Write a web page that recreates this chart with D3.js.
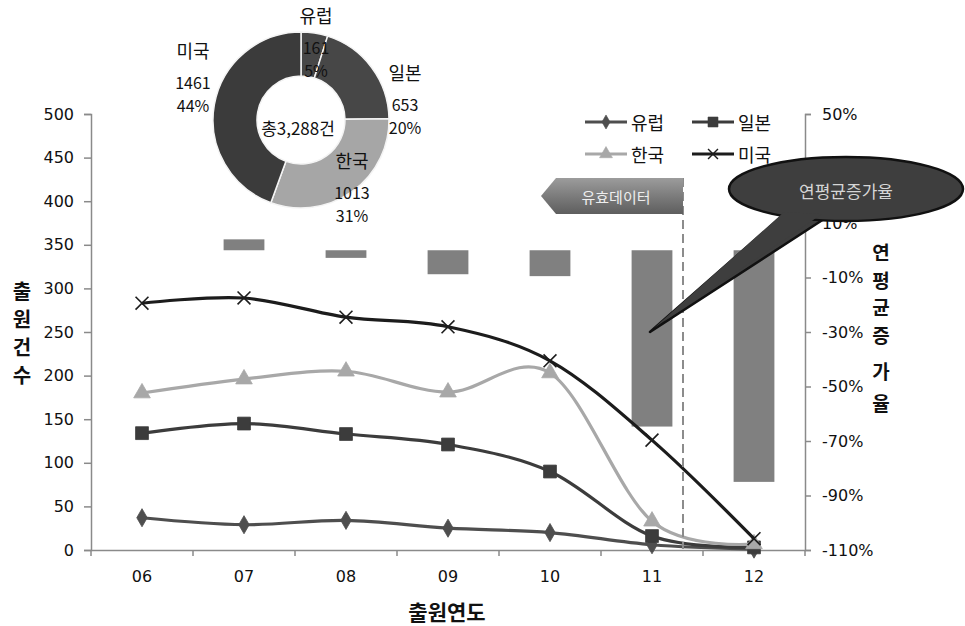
<!DOCTYPE html>
<html>
<head>
<meta charset="utf-8">
<script src="https://cdn.jsdelivr.net/npm/d3@7"></script>
<style>
  html, body { margin: 0; padding: 0; background: #fff; }
  svg { display: block; }
  text { font-family: "DejaVu Sans", "Noto Sans CJK KR", sans-serif; fill: #111; }
  .kr { font-family: "Noto Sans CJK KR", sans-serif; }
</style>
</head>
<body>
<svg id="chart" width="965" height="626"></svg>
<script>
// Filing counts per year and region
const years = ['06', '07', '08', '09', '10', '11', '12'];
const europe = [37, 29, 34, 25, 20, 6, 1];
const japan = [134, 145, 133, 121, 90, 16, 3];
const korea = [180, 196, 205, 181, 203, 33, 7];
const usa = [283, 289, 267, 256, 217, 126, 13];

// Year-over-year change of the total (%), right axis
const growthYears = ['07', '08', '09', '10', '11', '12'];
const growth = [4.0, -2.8, -8.8, -9.5, -64.7, -85.0];

// Axis ticks
const leftTicks = [0, 50, 100, 150, 200, 250, 300, 350, 400, 450, 500];
const rightTicks = [50, 30, 10, -10, -30, -50, -70, -90, -110];

// Regional share (donut)
const pieNames = ['유럽', '일본', '한국', '미국'];
const pieValues = [161, 653, 1013, 1461];

const series = [
  { name: '유럽', values: europe, color: '#4e4e4e', symbol: d3.symbolDiamond, size: 95 },
  { name: '일본', values: japan, color: '#3c3c3c', symbol: d3.symbolSquare, size: 165 },
  { name: '한국', values: korea, color: '#a8a8a8', symbol: d3.symbolTriangle, size: 120 },
  { name: '미국', values: usa, color: '#1c1c1c', symbol: d3.symbolTimes, size: 110, stroked: true }
];

const svg = d3.select('#chart');

const x = d3.scaleBand().domain(years).range([91, 805]);
const yL = d3.scaleLinear().domain([0, 500]).range([550, 114]);
const yR = d3.scaleLinear().domain([-110, 50]).range([550, 114]);
const cx = d => x(d) + x.bandwidth() / 2;

// Growth bars
const gBars = svg.append('g');
gBars.selectAll('rect').data(growthYears).join('rect')
  .attr('x', d => cx(d) - x.bandwidth() * 0.2)
  .attr('width', x.bandwidth() * 0.4)
  .attr('y', (d, i) => yR(Math.max(0, growth[i])))
  .attr('height', (d, i) => Math.abs(yR(growth[i]) - yR(0)))
  .attr('fill', '#808080');

// Left axis
const axL = svg.append('g').attr('transform', 'translate(91,0)')
  .call(d3.axisLeft(yL).tickValues(leftTicks).tickSize(7).tickPadding(10));
axL.selectAll('text').style('font-size', '16px').attr('fill', '#1a1a1a');

// Right axis
const axR = svg.append('g').attr('transform', 'translate(805,0)')
  .call(d3.axisRight(yR).tickValues(rightTicks).tickSize(6).tickPadding(11)
    .tickFormat(d => d + '%'));
axR.selectAll('text').style('font-size', '16px').attr('fill', '#1a1a1a');

// Bottom axis: labels centered, ticks on band boundaries
const axB = svg.append('g').attr('transform', 'translate(0,550)')
  .call(d3.axisBottom(x).tickSize(0).tickPadding(21));
axB.selectAll('text').style('font-size', '16px').attr('fill', '#1a1a1a');
const bounds = years.map(d => x(d)).concat([x.range()[1]]);
axB.selectAll('line.bnd').data(bounds).join('line').attr('class', 'bnd')
  .attr('x1', d => d).attr('x2', d => d).attr('y1', 0).attr('y2', 6);

[axL, axR, axB].forEach(a => {
  a.selectAll('path, line').attr('stroke', '#8a8a8a').attr('stroke-width', 1.5);
});

// Smoothed lines with markers
const line = d3.line().curve(d3.curveCardinal.tension(0));
const gLines = svg.append('g');
series.forEach(s => {
  const pts = s.values.map((v, i) => [cx(years[i]), yL(v)]);
  gLines.append('path')
    .attr('d', line(pts))
    .attr('fill', 'none')
    .attr('stroke', s.color)
    .attr('stroke-width', 3.2)
    .attr('stroke-linejoin', 'round');
  const sym = d3.symbol().type(s.symbol).size(s.size);
  gLines.selectAll(null).data(pts).join('path')
    .attr('transform', p => `translate(${p[0]},${p[1]})`)
    .attr('d', sym())
    .attr('fill', s.stroked ? 'none' : s.color)
    .attr('stroke', s.color)
    .attr('stroke-width', s.stroked ? 1.6 : 0.8);
});

// Valid-data boundary
svg.append('line')
  .attr('x1', 683).attr('x2', 683).attr('y1', 178).attr('y2', 549)
  .attr('stroke', '#8c8c8c').attr('stroke-width', 2).attr('stroke-dasharray', '9,5');

const defs = svg.append('defs');
const grad = defs.append('linearGradient').attr('id', 'tagGrad')
  .attr('x1', 0).attr('x2', 0).attr('y1', 0).attr('y2', 1);
grad.append('stop').attr('offset', '0%').attr('stop-color', '#9c9c9c');
grad.append('stop').attr('offset', '50%').attr('stop-color', '#7c7c7c');
grad.append('stop').attr('offset', '100%').attr('stop-color', '#5e5e5e');

svg.append('path')
  .attr('d', 'M541,196 L556,178 L683,178 L683,214 L556,214 Z')
  .attr('fill', 'url(#tagGrad)');
svg.append('text').attr('class', 'kr')
  .attr('x', 616).attr('y', 196).attr('text-anchor', 'middle')
  .attr('dominant-baseline', 'central')
  .style('font-size', '15px').style('fill', '#eeeeee')
  .text('유효데이터');

// Legend
const legendPos = [[585, 122], [692, 122], [585, 154], [692, 154]];
series.forEach((s, i) => {
  const [lx, ly] = legendPos[i];
  const g = svg.append('g').attr('transform', `translate(${lx},${ly})`);
  g.append('line').attr('x1', 0).attr('x2', 42).attr('y1', 0).attr('y2', 0)
    .attr('stroke', s.color).attr('stroke-width', 3.2);
  g.append('path').attr('transform', 'translate(21,0)')
    .attr('d', d3.symbol().type(s.symbol).size(s.size * 0.6)())
    .attr('fill', s.stroked ? 'none' : s.color)
    .attr('stroke', s.color).attr('stroke-width', s.stroked ? 1.4 : 0.6);
  g.append('text').attr('class', 'kr').attr('x', 46).attr('y', 0)
    .attr('dominant-baseline', 'central').style('font-size', '18px')
    .text(s.name);
});

// Axis titles
const leftTitle = ['출', '원', '건', '수'];
svg.append('g').selectAll('text').data(leftTitle).join('text')
  .attr('class', 'kr').attr('x', 22).attr('y', (d, i) => 290 + i * 28.3)
  .attr('text-anchor', 'middle').attr('dominant-baseline', 'central')
  .style('font-size', '20px').style('font-weight', 'bold').text(d => d);

const rightTitle = ['연', '평', '균', '증', '가', '율'];
const rightTitleY = [251, 279, 306, 334, 370, 402];
svg.append('g').selectAll('text').data(rightTitle).join('text')
  .attr('class', 'kr').attr('x', 881).attr('y', (d, i) => rightTitleY[i])
  .attr('text-anchor', 'middle').attr('dominant-baseline', 'central')
  .style('font-size', '19px').style('font-weight', 'bold').text(d => d);

svg.append('text').attr('class', 'kr')
  .attr('x', 447).attr('y', 611).attr('text-anchor', 'middle')
  .attr('dominant-baseline', 'central')
  .style('font-size', '21px').style('font-weight', 'bold').text('출원연도');

// Callout balloon
const tail = 'M782,216 L650,332 L824,219 Z';
svg.append('path').attr('d', tail).attr('fill', '#3e3e3e')
  .attr('stroke', '#111').attr('stroke-width', 2.5).attr('stroke-linejoin', 'round');
svg.append('ellipse').attr('cx', 846).attr('cy', 189).attr('rx', 117).attr('ry', 32)
  .attr('fill', '#3e3e3e').attr('stroke', '#111').attr('stroke-width', 2.5);
svg.append('path').attr('d', 'M784,212 L654,328 L822,214 Z').attr('fill', '#3e3e3e');
svg.append('text').attr('class', 'kr')
  .attr('x', 846).attr('y', 190).attr('text-anchor', 'middle')
  .attr('dominant-baseline', 'central')
  .style('font-size', '17px').style('fill', '#d6d6d6').text('연평균증가율');

// Donut of regional totals
const pc = [301, 120];
const total = d3.sum(pieValues);
const pie = d3.pie().sort(null).value(d => d);
const arc = d3.arc().innerRadius(44).outerRadius(88);
const pieColors = ['#474747', '#474747', '#a6a6a6', '#3b3b3b'];
const gPie = svg.append('g').attr('transform', `translate(${pc[0]},${pc[1]})`);
gPie.selectAll('path').data(pie(pieValues)).join('path')
  .attr('d', arc)
  .attr('fill', (d, i) => pieColors[i])
  .attr('stroke', '#f4f4f4').attr('stroke-width', 1.5);

gPie.append('text').attr('class', 'kr').attr('x', -3).attr('y', 7)
  .attr('text-anchor', 'middle').attr('dominant-baseline', 'central')
  .style('font-size', '17px').text('총' + d3.format(',')(total) + '건');

const pieLabelPos = [[15, -105], [104, -48], [51, 40], [-108, -70]];
const pct = d3.format('.0%');
pieNames.forEach((n, i) => {
  const [dx, dy] = pieLabelPos[i];
  const lines = [n, String(pieValues[i]), pct(pieValues[i] / total)];
  lines.forEach((t, k) => {
    gPie.append('text').attr('class', 'kr')
      .attr('x', dx).attr('y', dy + (k === 0 ? 0 : 9 + k * 23))
      .attr('text-anchor', 'middle').attr('dominant-baseline', 'central')
      .style('font-size', k === 0 ? '18px' : '16px')
      .text(t);
  });
});
</script>
</body>
</html>
